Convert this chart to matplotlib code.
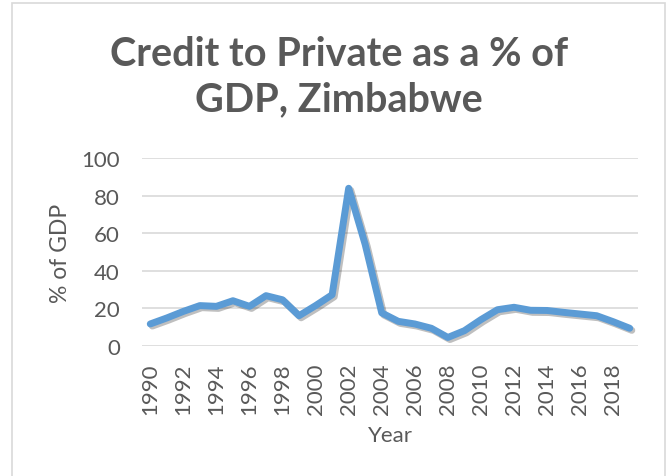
import numpy as np
import matplotlib.pyplot as plt
import matplotlib.patheffects as pe
from matplotlib.patches import Rectangle

plt.rcParams['font.family'] = ['Lato', 'DejaVu Sans']

# Data
years = list(range(1990, 2020))
credit = [11.6, 14.8, 18.3, 21.4, 21.0, 24.0, 21.0, 26.7, 24.5, 16.0,
          21.4, 27.2, 84.0, 54.0, 17.5, 13.0, 11.6, 9.3, 4.4, 8.0,
          13.9, 19.2, 20.5, 18.9, 18.8, 17.8, 16.9, 16.0, 12.8, 9.3]
tick_years = [str(y) for y in years[::2]]

grey = '#595959'
fig = plt.figure(figsize=(6.71, 4.77), dpi=100)

# chart frame (bottom edge is cut off in the original)
fig.patches.append(Rectangle((12/671, -0.1), 653/671, 1.1 - 4/477,
                             transform=fig.transFigure, fill=False,
                             edgecolor='#D9D9D9', linewidth=1.2))

ax = fig.add_axes([142/671, 1 - 346.7/477, 496/671, 187.4/477])

x = np.arange(len(years))
ax.plot(x, credit, color='#5B9BD5', linewidth=5, solid_capstyle='round',
        solid_joinstyle='round',
        path_effects=[pe.SimpleLineShadow(offset=(1.5, -1.5), alpha=0.25),
                      pe.Normal()], zorder=3)

ax.set_xlim(-0.5, len(years) - 0.5)
ax.set_ylim(0, 100)
ax.set_yticks([0, 20, 40, 60, 80, 100])
ax.set_xticks(x[::2])
ax.set_xticklabels(tick_years, rotation=90)
ax.grid(axis='y', color='#D9D9D9', linewidth=1.2)
ax.set_axisbelow(True)
for s in ax.spines.values():
    s.set_visible(False)
ax.tick_params(axis='both', length=0, labelsize=16, colors=grey)
ax.tick_params(axis='y', pad=16)
ax.tick_params(axis='x', pad=12)

ax.set_ylabel('% of GDP', fontsize=16.5, color=grey, labelpad=7)
ax.set_xlabel('Year', fontsize=16, color=grey, labelpad=8)

fig.text(0.505, 1 - 77/477, 'Credit to Private as a % of\nGDP, Zimbabwe',
         ha='center', va='center', fontsize=28.5, fontweight='bold',
         color=grey, linespacing=1.3)

plt.savefig('out.png', dpi=100)
